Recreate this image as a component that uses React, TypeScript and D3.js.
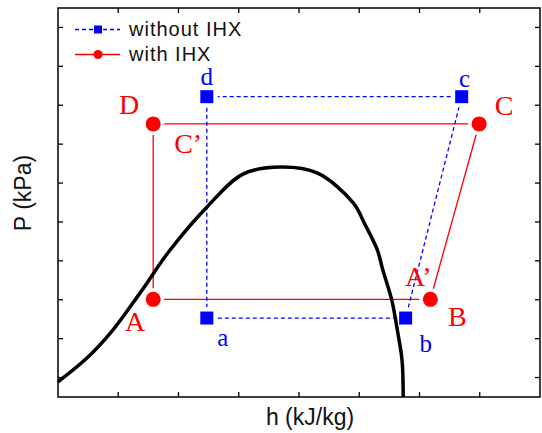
import React from 'react'
import * as d3 from 'd3'

// saturation dome
const domeH = [0, 0.48, 0.91, 1.36, 1.86, 2.47, 3.07, 3.69, 4.3, 4.9, 5.1, 5.3, 5.39, 5.54, 5.64, 5.71, 5.73]
const domeP = [0.39, 1.0, 1.72, 2.67, 3.78, 4.88, 5.73, 5.91, 5.76, 4.99, 4.42, 3.78, 3.27, 2.49, 1.65, 0.95, 0]

// cycle without IHX : a, b, c, d
const noIhxH = [2.47, 5.77, 6.7, 2.47]
const noIhxP = [2.03, 2.03, 7.72, 7.72]
const noIhxNames = ['a', 'b', 'c', 'd']

// cycle with IHX : A, B, C, D
const ihxH = [1.58, 6.18, 6.99, 1.58]
const ihxP = [2.51, 2.51, 7.02, 7.02]
const ihxNames = ['A', 'B', 'C', 'D']

const xTicks = [1, 2, 3, 4, 5, 6, 7]
const yTicks = [0.5, 1.5, 2.5, 3.5, 4.5, 5.5, 6.5, 7.5, 8.5, 9.5]

const legendNames = ['without IHX', 'with IHX']

const width = 542,
  height = 433,
  margin = { top: 8, right: 2, bottom: 36, left: 58 }

const BLUE = '#0000ff'
const RED = '#ff0000'
const SERIF = '"Liberation Serif", "DejaVu Serif", serif'
const SANS = '"Liberation Sans", Arial, sans-serif'

const x = d3.scaleLinear().domain([0, 8]).range([margin.left, width - margin.right])
const y = d3.scaleLinear().domain([0, 10]).range([height - margin.bottom, margin.top])

// segments of a closed loop, cut back near the markers
const loopSegments = (hs: number[], ps: number[], gap: number) =>
  hs.map((h, i) => {
    const j = (i + 1) % hs.length
    const x1 = x(h), y1 = y(ps[i]), x2 = x(hs[j]), y2 = y(ps[j])
    const len = Math.hypot(x2 - x1, y2 - y1)
    const ux = (x2 - x1) / len, uy = (y2 - y1) / len
    return { x1: x1 + ux * gap, y1: y1 + uy * gap, x2: x2 - ux * gap, y2: y2 - uy * gap }
  })

// label offsets in px from each point
const noIhxOff = [[16, 28], [20, 34], [3, -10], [0, -12]]
const ihxOff = [[-18, 32], [27, 27], [25, -9], [-24, -10]]

export default function App() {
  const dome = d3
    .line<number>()
    .x((d, i) => x(domeH[i]))
    .y((d, i) => y(domeP[i]))
    .curve(d3.curveCatmullRom.alpha(0.5))(domeH)

  const x0 = x.range()[0], x1 = x.range()[1]
  const y0 = y.range()[0], y1 = y.range()[1]
  const tk = 5

  return (
    <svg width={width} height={height} style={{ position: 'absolute', left: 0, top: 0, background: '#fff' }}>
      {/* with IHX loop */}
      {loopSegments(ihxH, ihxP, 11).map((s, i) => (
        <line key={'r' + i} {...s} stroke={RED} strokeWidth={1.3} />
      ))}
      {/* without IHX loop */}
      {loopSegments(noIhxH, noIhxP, 11).map((s, i) => (
        <line key={'b' + i} {...s} stroke={BLUE} strokeWidth={1.3} strokeDasharray='4,3' />
      ))}

      <path d={dome || ''} fill='none' stroke='#000' strokeWidth={3.5} strokeLinejoin='round' />

      {ihxH.map((h, i) => (
        <circle key={'c' + i} cx={x(h)} cy={y(ihxP[i])} r={7.5} fill={RED} />
      ))}
      {noIhxH.map((h, i) => (
        <rect key={'s' + i} x={x(h) - 6.5} y={y(noIhxP[i]) - 6.5} width={13} height={13} fill={BLUE} />
      ))}

      {ihxH.map((h, i) => (
        <text key={'lt' + i} x={x(h) + ihxOff[i][0]} y={y(ihxP[i]) + ihxOff[i][1]}
          textAnchor='middle' fontFamily={SERIF} fontSize={28} fill={RED}>
          {ihxNames[i]}
        </text>
      ))}
      {noIhxH.map((h, i) => (
        <text key={'lb' + i} x={x(h) + noIhxOff[i][0]} y={y(noIhxP[i]) + noIhxOff[i][1]}
          textAnchor='middle' fontFamily={SERIF} fontSize={25} fill={BLUE}>
          {noIhxNames[i]}
        </text>
      ))}
      <text x={x(ihxH[3]) + 35} y={y(ihxP[3]) + 29} textAnchor='middle' fontFamily={SERIF} fontSize={28} fill={RED}>
        C’
      </text>
      <text x={x(ihxH[1]) - 12} y={y(ihxP[1]) - 13} textAnchor='middle' fontFamily={SERIF} fontSize={28} fill={RED}>
        A’
      </text>

      {/* frame and inward ticks */}
      <rect x={x0} y={y1} width={x1 - x0} height={y0 - y1} fill='none' stroke='#000' strokeWidth={1.5} />
      {xTicks.map(t => (
        <g key={'xt' + t} stroke='#000' strokeWidth={1.3}>
          <line x1={x(t)} x2={x(t)} y1={y0} y2={y0 - tk} />
          <line x1={x(t)} x2={x(t)} y1={y1} y2={y1 + tk} />
        </g>
      ))}
      {yTicks.map(t => (
        <g key={'yt' + t} stroke='#000' strokeWidth={1.3}>
          <line x1={x0} x2={x0 + tk} y1={y(t)} y2={y(t)} />
          <line x1={x1} x2={x1 - tk} y1={y(t)} y2={y(t)} />
        </g>
      ))}

      {/* legend */}
      <g fontFamily={SANS} fontSize={20} fill='#111'>
        <line x1={75} x2={120} y1={29.5} y2={29.5} stroke={BLUE} strokeWidth={1.3} strokeDasharray='4,3' />
        <rect x={94} y={25.5} width={8} height={8} fill={BLUE} />
        <text x={129} y={36} letterSpacing={1}>{legendNames[0]}</text>
        <line x1={75} x2={120} y1={54.5} y2={54.5} stroke={RED} strokeWidth={1.3} />
        <circle cx={98} cy={54.5} r={4.5} fill={RED} />
        <text x={129} y={61} letterSpacing={1}>{legendNames[1]}</text>
      </g>

      <text x={310} y={425} textAnchor='middle' fontFamily={SANS} fontSize={23} fill='#111'>
        h (kJ/kg)
      </text>
      <text transform='translate(31,193) rotate(-90)' textAnchor='middle' fontFamily={SANS} fontSize={23} fill='#111'>
        P (kPa)
      </text>
    </svg>
  )
}
